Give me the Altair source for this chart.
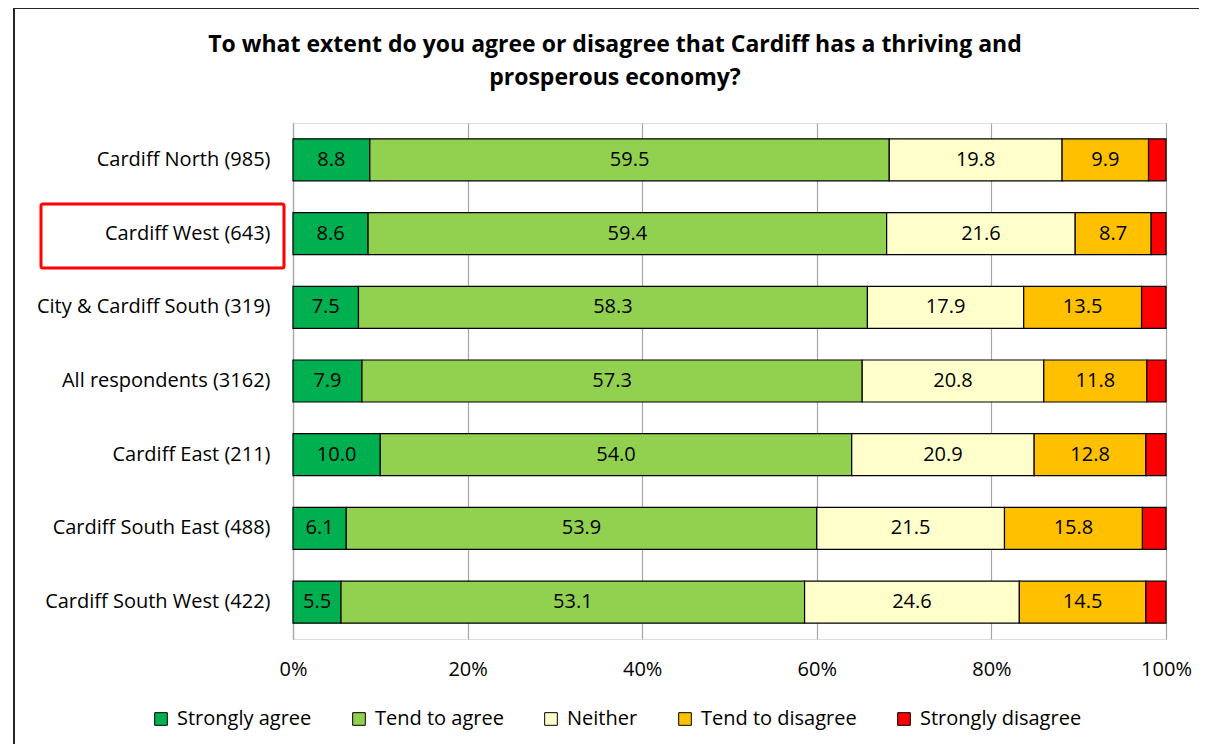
import altair as alt
import pandas as pd

title_lines = [
    "To what extent do you agree or disagree that Cardiff has a thriving and",
    "prosperous economy?",
]
regions = [
    "Cardiff North (985)",
    "Cardiff West (643)",
    "City & Cardiff South (319)",
    "All respondents (3162)",
    "Cardiff East (211)",
    "Cardiff South East (488)",
    "Cardiff South West (422)",
]
categories = ["Strongly agree", "Tend to agree", "Neither", "Tend to disagree", "Strongly disagree"]
colors = ["#00B050", "#92D050", "#FFFFCC", "#FFC000", "#FF0000"]

strongly_agree = [8.8, 8.6, 7.5, 7.9, 10.0, 6.1, 5.5]
tend_agree = [59.5, 59.4, 58.3, 57.3, 54.0, 53.9, 53.1]
neither = [19.8, 21.6, 17.9, 20.8, 20.9, 21.5, 24.6]
tend_disagree = [9.9, 8.7, 13.5, 11.8, 12.8, 15.8, 14.5]
strongly_disagree = [2.0, 1.7, 2.8, 2.2, 2.3, 2.7, 2.3]

series = [strongly_agree, tend_agree, neither, tend_disagree, strongly_disagree]
rows = []
for ci, (cat, vals) in enumerate(zip(categories, series)):
    for r, v in zip(regions, vals):
        rows.append({"region": r, "category": cat, "order": ci, "value": v,
                     "label": f"{v:.1f}" if ci < 4 else ""})
df = pd.DataFrame(rows)

FONT = "Open Sans"
FS = 20

base = alt.Chart(df).transform_stack(
    stack="value", groupby=["region"], as_=["x0", "x1"],
    sort=[alt.SortField("order", order="ascending")]
).transform_calculate(mid="(datum.x0 + datum.x1) / 2")

y_enc = alt.Y("region:N", sort=regions, title=None,
              scale=alt.Scale(paddingInner=0.43, paddingOuter=0.215),
              axis=alt.Axis(labelFontSize=FS, labelColor="#000000", labelFont=FONT,
                            labelPadding=23, ticks=False, domain=True,
                            domainColor="#A6A6A6", domainWidth=1.2, labelLimit=400))

bars = base.mark_bar(stroke="#000000", strokeWidth=1.2).encode(
    x=alt.X("x0:Q", title=None, scale=alt.Scale(domain=[0, 100], nice=False),
            axis=alt.Axis(values=[0, 20, 40, 60, 80, 100], labelExpr="datum.value + '%'",
                          labelFontSize=FS, labelColor="#000000", labelFont=FONT,
                          labelPadding=20, labelFlush=False, ticks=False, domain=False,
                          grid=True, gridColor="#A6A6A6", gridWidth=1.2)),
    x2="x1:Q",
    y=y_enc,
    color=alt.Color("category:N", sort=categories,
                    scale=alt.Scale(domain=categories, range=colors),
                    legend=alt.Legend(title=None, orient="none", direction="horizontal",
                                      legendX=-142, legendY=586,
                                      symbolType="square", symbolSize=160,
                                      symbolStrokeColor="#000000", symbolStrokeWidth=1,
                                      symbolOpacity=1, labelLimit=400,
                                      labelFontSize=FS, labelFont=FONT, labelColor="#000000",
                                      labelOffset=6, columnPadding=37)),
    order=alt.Order("order:Q"),
)

labels = base.mark_text(fontSize=FS, font=FONT, color="#000000").encode(
    x="mid:Q",
    y=alt.Y("region:N", sort=regions),
    text="label:N",
)

title1 = alt.Chart(pd.DataFrame({"t": [title_lines[0]]})).mark_text(
    fontSize=23, font=FONT, fontWeight="bold", color="#000000", align="center", baseline="middle"
).encode(text="t:N", x=alt.value(322), y=alt.value(-78))
title2 = alt.Chart(pd.DataFrame({"t": [title_lines[1]]})).mark_text(
    fontSize=23, font=FONT, fontWeight="bold", color="#000000", align="center", baseline="middle"
).encode(text="t:N", x=alt.value(322), y=alt.value(-45))

highlight = alt.Chart(pd.DataFrame({"k": [0]})).mark_rect(
    fill=None, stroke="#FF0000", strokeWidth=3, cornerRadius=2
).encode(x=alt.value(-252), x2=alt.value(-9), y=alt.value(81), y2=alt.value(145))

frame = alt.Chart(pd.DataFrame({"k": [0]})).mark_rect(
    fill=None, stroke="#262626", strokeWidth=2
).encode(x=alt.value(-279), x2=alt.value(1000), y=alt.value(-115), y2=alt.value(700))

chart = alt.layer(frame, bars, labels, highlight, title1, title2).properties(
    width=873, height=516,
    autosize=alt.AutoSizeParams(type="none"),
    padding={"left": 285, "top": 115, "right": 33, "bottom": 105},
).configure_view(stroke=None).configure(background="#FFFFFF")

chart.save("out.html", embed_options={"renderer": "svg", "actions": False})
